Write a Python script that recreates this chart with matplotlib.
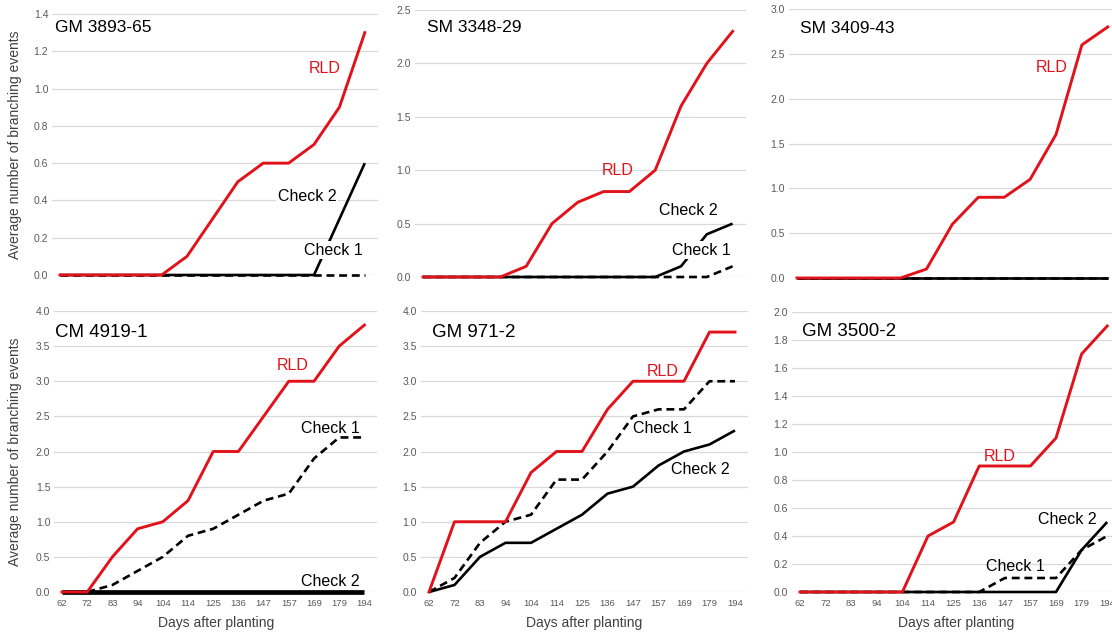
import numpy as np
import matplotlib
matplotlib.use('Agg')
import matplotlib.pyplot as plt

plt.rcParams['font.family'] = ['Liberation Sans', 'DejaVu Sans']

# ---- data ----
days = ['62', '72', '83', '94', '104', '114', '125', '136', '147', '157', '169', '179', '194']

gm3893_rld    = [0, 0, 0, 0, 0, 0.1, 0.3, 0.5, 0.6, 0.6, 0.7, 0.9, 1.3]
gm3893_check1 = [0, 0, 0, 0, 0, 0, 0, 0, 0, 0, 0, 0, 0]
gm3893_check2 = [0, 0, 0, 0, 0, 0, 0, 0, 0, 0, 0, 0.3, 0.6]

sm3348_rld    = [0, 0, 0, 0, 0.1, 0.5, 0.7, 0.8, 0.8, 1.0, 1.6, 2.0, 2.3]
sm3348_check1 = [0, 0, 0, 0, 0, 0, 0, 0, 0, 0, 0, 0, 0.1]
sm3348_check2 = [0, 0, 0, 0, 0, 0, 0, 0, 0, 0, 0.1, 0.4, 0.5]

sm3409_rld    = [0, 0, 0, 0, 0, 0.1, 0.6, 0.9, 0.9, 1.1, 1.6, 2.6, 2.8]
sm3409_check1 = [0, 0, 0, 0, 0, 0, 0, 0, 0, 0, 0, 0, 0]
sm3409_check2 = [0, 0, 0, 0, 0, 0, 0, 0, 0, 0, 0, 0, 0]

cm4919_rld    = [0, 0, 0.5, 0.9, 1.0, 1.3, 2.0, 2.0, 2.5, 3.0, 3.0, 3.5, 3.8]
cm4919_check1 = [0, 0, 0.1, 0.3, 0.5, 0.8, 0.9, 1.1, 1.3, 1.4, 1.9, 2.2, 2.2]
cm4919_check2 = [0, 0, 0, 0, 0, 0, 0, 0, 0, 0, 0, 0, 0]

gm971_rld    = [0, 1.0, 1.0, 1.0, 1.7, 2.0, 2.0, 2.6, 3.0, 3.0, 3.0, 3.7, 3.7]
gm971_check1 = [0, 0.2, 0.7, 1.0, 1.1, 1.6, 1.6, 2.0, 2.5, 2.6, 2.6, 3.0, 3.0]
gm971_check2 = [0, 0.1, 0.5, 0.7, 0.7, 0.9, 1.1, 1.4, 1.5, 1.8, 2.0, 2.1, 2.3]

gm3500_rld    = [0, 0, 0, 0, 0, 0.4, 0.5, 0.9, 0.9, 0.9, 1.1, 1.7, 1.9]
gm3500_check1 = [0, 0, 0, 0, 0, 0, 0, 0, 0.1, 0.1, 0.1, 0.3, 0.4]
gm3500_check2 = [0, 0, 0, 0, 0, 0, 0, 0, 0, 0, 0, 0.3, 0.5]

W, H = 1112, 632
RED = '#e2121b'
YLABEL = 'Average number of branching events'

def pxRect(x0, sp, ytop, ybot):
    # x0 = pixel of first category, sp = pixel spacing
    left = x0 - 0.3 * sp
    right = x0 + 12.5 * sp
    return [left / W, 1 - ybot / H, (right - left) / W, (ybot - ytop) / H]

def panel(fig, rect, rld, check1, check2, ymax, ystep, title, labels,
          showX=False, ylabelX=None, check2lw=1.9, titleSize=12.5, boxed=()):
    ax = fig.add_axes(rect)
    x = np.arange(len(days))
    ax.plot(x, check1, color='black', linewidth=1.9, linestyle=(0, (3, 1.8)),
            clip_on=False, zorder=3)
    ax.plot(x, check2, color='black', linewidth=check2lw, clip_on=False,
            zorder=3, solid_capstyle='butt')
    ax.plot(x, rld, color=RED, linewidth=2.1, clip_on=False, zorder=4)

    ax.set_xlim(-0.3, 12.5)
    ax.set_ylim(0, ymax)
    ax.set_yticks(np.arange(0, ymax + ystep / 2, ystep))
    ax.yaxis.set_major_formatter(matplotlib.ticker.FormatStrFormatter('%.1f'))
    ax.grid(True, axis='y', color='#d9d9d9', linewidth=0.9, zorder=0)
    ax.set_axisbelow(True)
    for s in ax.spines.values():
        s.set_visible(False)
    ax.tick_params(axis='y', length=0, pad=3, labelsize=7.5, labelcolor='#595959')
    if showX:
        ax.set_xticks(x)
        ax.set_xticklabels(days)
        ax.tick_params(axis='x', length=0, pad=5, labelsize=6.8, labelcolor='#595959')
        ax.set_xlabel('Days after planting', fontsize=10, color='#404040')
        ax.xaxis.set_label_coords(0.5, -0.087)
    else:
        ax.set_xticks([])
    if ylabelX is not None:
        ax.set_ylabel(YLABEL, fontsize=10, color='#404040')
        ax.yaxis.set_label_coords(ylabelX, 0.5)

    ax.text(labels['title'][0], labels['title'][1], title, fontsize=titleSize,
            ha='left', va='center', color='black', zorder=6)
    for key, (tx, ty) in labels.items():
        if key == 'title':
            continue
        col = RED if key == 'RLD' else 'black'
        box = None
        if key in boxed:
            box = dict(facecolor='white', edgecolor='none', pad=1.0)
        ax.text(tx, ty, key, fontsize=11.5, ha='center', va='center', color=col,
                zorder=5, bbox=box)
    return ax

fig = plt.figure(figsize=(W / 100, H / 100), dpi=100)
fig.patch.set_facecolor('white')

panel(fig, pxRect(60, 25.4, 14, 275), gm3893_rld, gm3893_check1, gm3893_check2,
      1.4, 0.2, 'GM 3893-65',
      {'title': (-0.2, 1.33), 'RLD': (10.43, 1.11), 'Check 2': (9.72, 0.42),
       'Check 1': (10.75, 0.134)}, ylabelX=-0.092, boxed=('Check 1', 'Check 2'))

panel(fig, pxRect(423, 25.8, 10, 277), sm3348_rld, sm3348_check1, sm3348_check2,
      2.5, 0.5, 'SM 3348-29',
      {'title': (0.15, 2.34), 'RLD': (7.56, 1.0), 'Check 2': (10.27, 0.62),
       'Check 1': (10.78, 0.25)}, boxed=('Check 1',))

panel(fig, pxRect(797, 25.9, 9, 278), sm3409_rld, sm3409_check1, sm3409_check2,
      3.0, 0.5, 'SM 3409-43',
      {'title': (0.12, 2.78), 'RLD': (9.85, 2.35)})

panel(fig, pxRect(62, 25.2, 311, 592), cm4919_rld, cm4919_check1, cm4919_check2,
      4.0, 0.5, 'CM 4919-1',
      {'title': (-0.28, 3.70), 'RLD': (9.17, 3.23), 'Check 1': (10.63, 2.33),
       'Check 2': (10.63, 0.15)}, showX=True, ylabelX=-0.10, check2lw=3.4,
      titleSize=13.5)

panel(fig, pxRect(429, 25.5, 311, 592), gm971_rld, gm971_check1, gm971_check2,
      4.0, 0.5, 'GM 971-2',
      {'title': (0.12, 3.70), 'RLD': (9.18, 3.14), 'Check 1': (9.14, 2.33),
       'Check 2': (10.63, 1.74)}, showX=True, titleSize=13.5)

panel(fig, pxRect(800, 25.6, 312, 592), gm3500_rld, gm3500_check1, gm3500_check2,
      2.0, 0.2, 'GM 3500-2',
      {'title': (0.08, 1.86), 'RLD': (7.81, 0.97), 'Check 2': (10.43, 0.52),
       'Check 1': (8.4, 0.18)}, showX=True, titleSize=13.5)

fig.savefig('out.png', dpi=100)
